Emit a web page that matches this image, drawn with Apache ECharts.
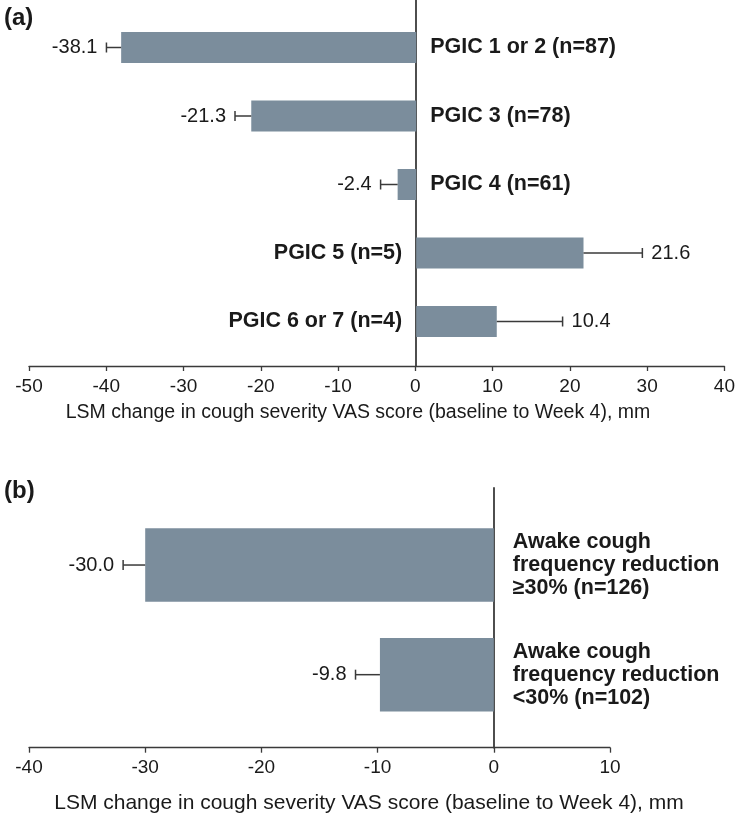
<!DOCTYPE html>
<html>
<head>
<meta charset="utf-8">
<script src="https://cdn.jsdelivr.net/npm/echarts@6/dist/echarts.min.js"></script>
<style>
html,body{margin:0;padding:0;background:#fff;}
#chart{width:738px;height:817px;}
</style>
</head>
<body>
<div id="chart"></div>
<script>
// ---- Data ----
const catsA = ['PGIC 1 or 2 (n=87)', 'PGIC 3 (n=78)', 'PGIC 4 (n=61)', 'PGIC 5 (n=5)', 'PGIC 6 or 7 (n=4)'];
const valsA = [-38.1, -21.3, -2.4, 21.6, 10.4];
const errA = [1.9, 2.1, 2.2, 7.6, 8.5];

const catsB = ['Awake cough\nfrequency reduction\n≥30% (n=126)', 'Awake cough\nfrequency reduction\n<30% (n=102)'];
const valsB = [-30.0, -9.8];
const errB = [1.9, 2.1];

const axisA = { min: -50, max: 40, interval: 10 };
const axisB = { min: -40, max: 10, interval: 10 };
const axisTitle = 'LSM change in cough severity VAS score (baseline to Week 4), mm';

// ---- Styles ----
const FONT = '"Liberation Sans", Arial, Helvetica, sans-serif';
const TXT = '#1a1a1a';
const BAR = '#7b8d9c';
const LINE = '#3a3a3a';

const chart = echarts.init(document.getElementById('chart'), null, { renderer: 'canvas' });

function makeRender(cats, catFont, catGap, catLineHeight) {
  return function (params, api) {
    const i = params.dataIndex;
    const v = api.value(0);
    const idx = api.value(1);
    const e = api.value(2);
    const sign = v < 0 ? -1 : 1;
    const end = api.coord([v, idx]);
    const cap = api.coord([v + sign * e, idx]);
    const zero = api.coord([0, idx]);
    const y = end[1];
    return {
      type: 'group',
      children: [
        { type: 'line', shape: { x1: end[0], y1: y, x2: cap[0], y2: y }, style: { stroke: LINE, lineWidth: 1.5 } },
        { type: 'line', shape: { x1: cap[0], y1: y - 5, x2: cap[0], y2: y + 5 }, style: { stroke: LINE, lineWidth: 1.5 } },
        { type: 'text', style: {
            text: v.toFixed(1), x: cap[0] + sign * 9, y: y,
            align: sign < 0 ? 'right' : 'left', textAlign: sign < 0 ? 'right' : 'left',
            verticalAlign: 'middle', textVerticalAlign: 'middle',
            font: '20px ' + FONT, fill: TXT } },
        { type: 'text', style: {
            text: cats[i], x: zero[0] - sign * catGap, y: y,
            align: sign < 0 ? 'left' : 'right', textAlign: sign < 0 ? 'left' : 'right',
            verticalAlign: 'middle', textVerticalAlign: 'middle',
            lineHeight: catLineHeight,
            font: catFont, fill: TXT } }
      ]
    };
  };
}

function frameX(grid, ax) {
  return {
    gridIndex: grid, type: 'value', min: ax.min, max: ax.max, interval: ax.interval,
    axisLine: { show: true, onZero: false, lineStyle: { color: LINE, width: 1.3 } },
    axisTick: { show: true, length: 5, lineStyle: { color: LINE, width: 1.3 } },
    axisLabel: { fontSize: 19, fontFamily: FONT, color: TXT, margin: 11 },
    splitLine: { show: false }
  };
}
function hiddenX(grid, ax) {
  return { gridIndex: grid, type: 'value', min: ax.min, max: ax.max, interval: ax.interval, show: false, splitLine: { show: false } };
}
function frameY(grid) {
  return {
    gridIndex: grid, type: 'value', min: 0, max: 1,
    axisLine: { show: true, onZero: true, lineStyle: { color: LINE, width: 1.8 } },
    axisTick: { show: false }, axisLabel: { show: false }, splitLine: { show: false }
  };
}
function catY(grid, cats) {
  return { gridIndex: grid, type: 'category', data: cats, inverse: true, show: false };
}

const option = {
  backgroundColor: '#fff',
  animation: false,
  grid: [
    { left: 29, right: 12, top: 0, bottom: 451 },
    { left: 29, right: 12, top: 13.25, bottom: 461.25 },
    { left: 29, right: 128, top: 488, bottom: 69.3 },
    { left: 29, right: 128, top: 510.2, bottom: 87.5 }
  ],
  xAxis: [frameX(0, axisA), hiddenX(1, axisA), frameX(2, axisB), hiddenX(3, axisB)],
  yAxis: [frameY(0), catY(1, catsA), frameY(2), catY(3, catsB)],
  graphic: [
    { type: 'text', left: 4, top: 6, style: { text: '(a)', font: 'bold 24px ' + FONT, fill: TXT } },
    { type: 'text', left: 4, top: 479, style: { text: '(b)', font: 'bold 24px ' + FONT, fill: TXT } },
    { type: 'text', x: 358, y: 413, style: { text: axisTitle, x: 0, y: 0, align: 'center', textAlign: 'center', verticalAlign: 'middle', textVerticalAlign: 'middle', font: '19.5px ' + FONT, fill: TXT } },
    { type: 'text', x: 369, y: 803, style: { text: axisTitle, x: 0, y: 0, align: 'center', textAlign: 'center', verticalAlign: 'middle', textVerticalAlign: 'middle', font: '21px ' + FONT, fill: TXT } }
  ],
  series: [
    { type: 'bar', xAxisIndex: 1, yAxisIndex: 1, data: valsA, barWidth: 31, itemStyle: { color: BAR }, silent: true },
    { type: 'custom', xAxisIndex: 1, yAxisIndex: 1, z: 5,
      data: valsA.map((v, i) => [v, i, errA[i]]),
      encode: { x: 0, y: 1 },
      renderItem: makeRender(catsA, 'bold 21.5px ' + FONT, 14, 23) },
    { type: 'bar', xAxisIndex: 3, yAxisIndex: 3, data: valsB, barWidth: 73.5, itemStyle: { color: BAR }, silent: true },
    { type: 'custom', xAxisIndex: 3, yAxisIndex: 3, z: 5,
      data: valsB.map((v, i) => [v, i, errB[i]]),
      encode: { x: 0, y: 1 },
      renderItem: makeRender(catsB, 'bold 21.5px ' + FONT, 19, 23) }
  ]
};
chart.setOption(option);
</script>
</body>
</html>
